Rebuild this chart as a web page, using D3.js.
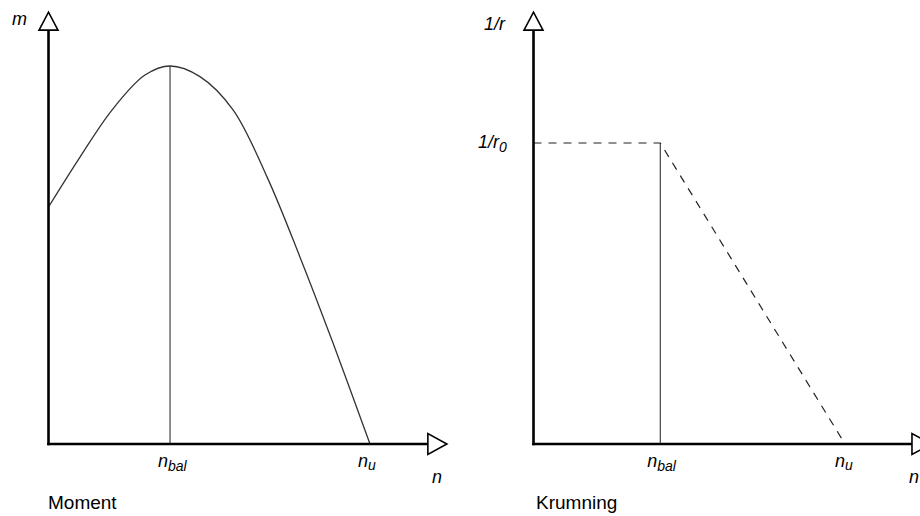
<!DOCTYPE html>
<html>
<head>
<meta charset="utf-8">
<script src="https://cdn.jsdelivr.net/npm/d3@7"></script>
<style>
  html, body { margin: 0; padding: 0; background: #fff; }
  svg { display: block; }
  text { font-family: "Liberation Sans", Arial, sans-serif; fill: #000; }
</style>
</head>
<body>
<svg id="chart" width="920" height="516"></svg>
<script>
// ---------- data ----------
// Left panel: moment m versus normal force n (n_u = 1, m_max = 1)
const momentN = [0, 0.098, 0.198, 0.300, 0.378, 0.471, 0.574, 0.680, 0.782, 0.885, 1.0];
const momentM = [0.627, 0.759, 0.884, 0.976, 1.0, 0.972, 0.884, 0.706, 0.495, 0.267, 0];
const momentNbal = 0.378;
const momentNu = 1.0;
const momentAxisMax = { n: 1.18, m: 1.095 };

// Right panel: curvature 1/r versus n
const curvN = [0, 0.407, 1.0];
const curvR = [1.0, 1.0, 0];
const curvNbal = 0.407;
const curvNu = 1.0;
const curvAxisMax = { n: 1.215, r: 1.375 };

// Labels
const tickLabels = { nbal: ["n", "bal"], nu: ["n", "u"] };
const axisLabels = { left: { y: "m", x: "n" }, right: { y: "1/r", x: "n", y0: ["1/r", "0"] } };
const titles = ["Moment", "Krumning"];

// ---------- drawing ----------
const svg = d3.select("#chart");

function drawAxes(g, x, y, xMax, yMax) {
  const x0 = x(0), y0 = y(0), xe = x(xMax), ye = y(yMax);
  g.append("line").attr("x1", x0).attr("y1", y0 + 1.2).attr("x2", x0).attr("y2", ye)
    .attr("stroke", "#000").attr("stroke-width", 2.6);
  g.append("line").attr("x1", x0 - 1.3).attr("y1", y0).attr("x2", xe).attr("y2", y0)
    .attr("stroke", "#000").attr("stroke-width", 2.4);
  // arrow heads (open triangles)
  g.append("path")
    .attr("d", `M${x0 - 9.5},${ye} L${x0 + 9.5},${ye} L${x0},${ye - 18} Z`)
    .attr("fill", "#fff").attr("stroke", "#000").attr("stroke-width", 1.6).attr("stroke-linejoin", "miter");
  g.append("path")
    .attr("d", `M${xe},${y0 - 10.5} L${xe},${y0 + 10.5} L${xe + 19},${y0} Z`)
    .attr("fill", "#fff").attr("stroke", "#000").attr("stroke-width", 1.6).attr("stroke-linejoin", "miter");
}

function subLabel(g, xPos, yPos, parts, anchor, mainSize, subSize, subDy) {
  const t = g.append("text").attr("x", xPos).attr("y", yPos)
    .attr("text-anchor", anchor).style("font-style", "italic").style("font-size", mainSize + "px");
  t.append("tspan").text(parts[0]);
  t.append("tspan").attr("dy", subDy).style("font-size", subSize + "px").text(parts[1]);
  return t;
}

// ---- Left panel ----
{
  const x = d3.scaleLinear().domain([0, 1]).range([48.5, 370]);
  const y = d3.scaleLinear().domain([0, 1]).range([444, 66]);
  const g = svg.append("g");

  // vertical line at n_bal
  g.append("line").attr("x1", x(momentNbal)).attr("x2", x(momentNbal))
    .attr("y1", y(0)).attr("y2", y(d3.max(momentM)))
    .attr("stroke", "#333").attr("stroke-width", 1.1);

  const pts = momentN.map((n, i) => [n, momentM[i]]);
  const line = d3.line().x(d => x(d[0])).y(d => y(d[1])).curve(d3.curveCatmullRom.alpha(0.5));
  g.append("path").attr("d", line(pts)).attr("fill", "none")
    .attr("stroke", "#333").attr("stroke-width", 1.3);

  drawAxes(g, x, y, momentAxisMax.n, momentAxisMax.m);

  g.append("text").attr("x", 27).attr("y", 25).attr("text-anchor", "end")
    .style("font-style", "italic").style("font-size", "18px").text(axisLabels.left.y);
  g.append("text").attr("x", 432).attr("y", 483)
    .style("font-style", "italic").style("font-size", "18px").text(axisLabels.left.x);

  subLabel(g, x(momentNbal) - 12, 467, tickLabels.nbal, "start", 18, 14, 4);
  subLabel(g, x(momentNu) - 12, 467, tickLabels.nu, "start", 18, 14, 3);

  g.append("text").attr("x", 48).attr("y", 509).style("font-size", "19px").text(titles[0]);
}

// ---- Right panel ----
{
  const x = d3.scaleLinear().domain([0, 1]).range([533.5, 845]);
  const y = d3.scaleLinear().domain([0, 1]).range([444, 143]);
  const g = svg.append("g");

  g.append("line").attr("x1", x(curvNbal)).attr("x2", x(curvNbal))
    .attr("y1", y(0)).attr("y2", y(curvR[1]))
    .attr("stroke", "#333").attr("stroke-width", 1.1);

  const pts = curvN.map((n, i) => [n, curvR[i]]);
  const line = d3.line().x(d => x(d[0])).y(d => y(d[1]));
  g.append("path").attr("d", line(pts)).attr("fill", "none")
    .attr("stroke", "#222").attr("stroke-width", 1.2).attr("stroke-dasharray", "8,7");

  drawAxes(g, x, y, curvAxisMax.n, curvAxisMax.r);

  g.append("text").attr("x", 505).attr("y", 30).attr("text-anchor", "end")
    .style("font-style", "italic").style("font-size", "18px").text(axisLabels.right.y);
  subLabel(g, 478, 148, axisLabels.right.y0, "start", 18, 14, 4);
  g.append("text").attr("x", 909).attr("y", 483)
    .style("font-style", "italic").style("font-size", "18px").text(axisLabels.right.x);

  subLabel(g, x(curvNbal) - 13, 467, tickLabels.nbal, "start", 18, 14, 4);
  subLabel(g, x(curvNu) - 10, 467, tickLabels.nu, "start", 18, 14, 3);

  g.append("text").attr("x", 536).attr("y", 509).style("font-size", "19px").text(titles[1]);
}
</script>
</body>
</html>
